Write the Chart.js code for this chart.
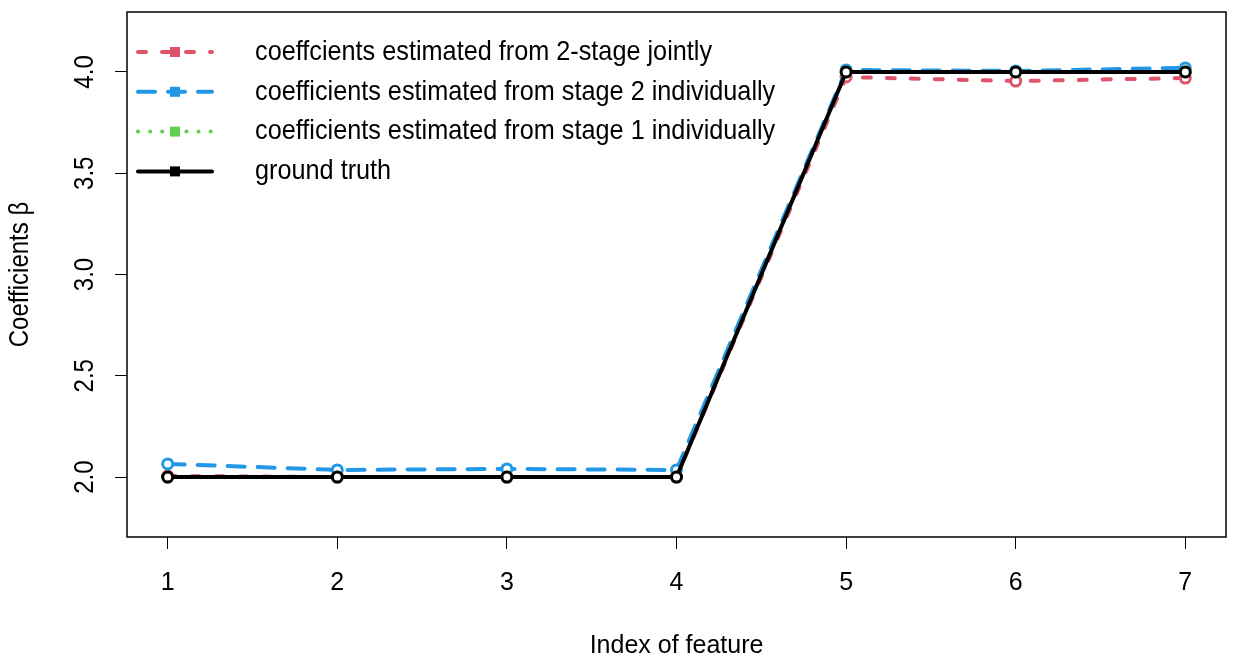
<!DOCTYPE html>
<html>
<head>
<meta charset="utf-8">
<script src="https://cdn.jsdelivr.net/npm/chart.js@4.4.1/dist/chart.umd.min.js"></script>
<style>
html,body{margin:0;padding:0;background:#fff;}
#wrap{width:1234px;height:665px;}
</style>
</head>
<body>
<div id="wrap"><canvas id="c" width="1234" height="665"></canvas></div>
<script>
const features = [1, 2, 3, 4, 5, 6, 7];
const jointly = [2.005, 2.0, 2.0, 2.0, 3.975, 3.955, 3.97];
const stage2 = [2.065, 2.035, 2.04, 2.035, 4.01, 4.005, 4.02];
const stage1 = [2.0, 2.0, 2.0, 2.0, 4.0, 4.0, 4.0];
const truth = [2, 2, 2, 2, 4, 4, 4];
const xTicks = [1, 2, 3, 4, 5, 6, 7];
const yTicks = [2.0, 2.5, 3.0, 3.5, 4.0];
const yTickLabels = ['2.0', '2.5', '3.0', '3.5', '4.0'];
const seriesNames = [
  'coeffcients estimated from 2-stage jointly',
  'coefficients estimated from stage 2 individually',
  'coefficients estimated from stage 1 individually',
  'ground truth'
];
const FONT = '"Liberation Sans", Arial, sans-serif';

function mk(vals){ return vals.map((v,i)=>({x:features[i], y:v})); }

const styles = [
  {color:'#DF536B', dash:[8,16], order:3},
  {color:'#2297E6', dash:[17,13], order:2},
  {color:'#61D04F', dash:[0.1,12], order:1},
  {color:'#000000', dash:[], order:0}
];
const allVals = [jointly, stage2, stage1, truth];

const datasets = allVals.map((vals,i)=>({
  label: seriesNames[i],
  data: mk(vals),
  borderColor: styles[i].color,
  backgroundColor: '#ffffff',
  borderWidth: 4,
  borderDash: styles[i].dash,
  borderCapStyle: 'round',
  pointRadius: 5,
  pointBorderWidth: 3,
  pointBorderColor: styles[i].color,
  pointBackgroundColor: '#ffffff',
  pointStyle: 'circle',
  tension: 0,
  fill: false,
  order: styles[i].order
}));

function stretchedText(ctx, text, x, y, rot, sx){
  ctx.save();
  ctx.translate(x, y);
  if (rot) ctx.rotate(rot);
  ctx.scale(sx || 0.96, 1.12);
  ctx.fillText(text, 0, 0);
  ctx.restore();
}

const overlay = {
  id: 'overlay',
  afterDraw(chart){
    const ctx = chart.ctx;
    const a = chart.chartArea;
    const y = chart.scales.y;
    ctx.save();
    ctx.strokeStyle = '#000';
    ctx.lineWidth = 1.5;
    ctx.strokeRect(a.left, a.top, a.right - a.left, a.bottom - a.top);
    ctx.fillStyle = '#000';
    ctx.font = '25px ' + FONT;
    ctx.textAlign = 'center';
    ctx.textBaseline = 'middle';
    yTicks.forEach((v,i)=>{
      const py = y.getPixelForValue(v);
      stretchedText(ctx, yTickLabels[i], 85, py, -Math.PI/2);
    });
    stretchedText(ctx, 'Coefficients \u03B2', 20, (a.top + a.bottom)/2, -Math.PI/2);
    const rowY0 = 52, rowGap = 39.8;
    const lx0 = 138, lx1 = 212, mx = 175, tx = 255;
    chart.data.datasets.forEach((ds,i)=>{
      const ry = rowY0 + i*rowGap;
      ctx.save();
      ctx.strokeStyle = ds.borderColor;
      ctx.lineWidth = 4;
      ctx.lineCap = 'round';
      ctx.setLineDash(ds.borderDash);
      ctx.beginPath();
      ctx.moveTo(lx0, ry);
      ctx.lineTo(lx1, ry);
      ctx.stroke();
      ctx.setLineDash([]);
      ctx.fillStyle = ds.borderColor;
      ctx.fillRect(mx - 5, ry - 5, 10, 10);
      ctx.restore();
      ctx.fillStyle = '#000';
      ctx.textAlign = 'left';
      ctx.textBaseline = 'middle';
      ctx.font = '25px ' + FONT;
      stretchedText(ctx, ds.label, tx, ry, 0, 1.01);
    });
    ctx.restore();
  }
};

new Chart(document.getElementById('c'), {
  type: 'line',
  data: { datasets },
  options: {
    responsive: false,
    animation: false,
    devicePixelRatio: 1,
    layout: { padding: { left: 0, right: 5, top: 12, bottom: 0 } },
    plugins: { legend: { display: false }, tooltip: { enabled: false } },
    scales: {
      x: {
        type: 'linear',
        min: 0.76,
        max: 7.24,
        afterBuildTicks: s => { s.ticks = xTicks.map(v=>({value:v})); },
        afterFit: s => { s.height = 128; },
        grid: { display: true, drawOnChartArea: false, drawTicks: true, tickLength: 12, color: '#000', lineWidth: 1 },
        border: { display: false },
        ticks: { color: '#000', font: { size: 25, family: FONT }, padding: 19, maxRotation: 0, autoSkip: false, callback: v => String(v) },
        title: { display: true, text: 'Index of feature', color: '#000', font: { size: 25, family: FONT }, padding: { top: 0, bottom: 4 } }
      },
      y: {
        type: 'linear',
        min: 1.704,
        max: 4.296,
        afterBuildTicks: s => { s.ticks = yTicks.map(v=>({value:v})); },
        afterFit: s => { s.width = 127; },
        grid: { display: true, drawOnChartArea: false, drawTicks: true, tickLength: 12, color: '#000', lineWidth: 1 },
        border: { display: false },
        ticks: { display: false }
      }
    }
  },
  plugins: [overlay]
});
</script>
</body>
</html>
